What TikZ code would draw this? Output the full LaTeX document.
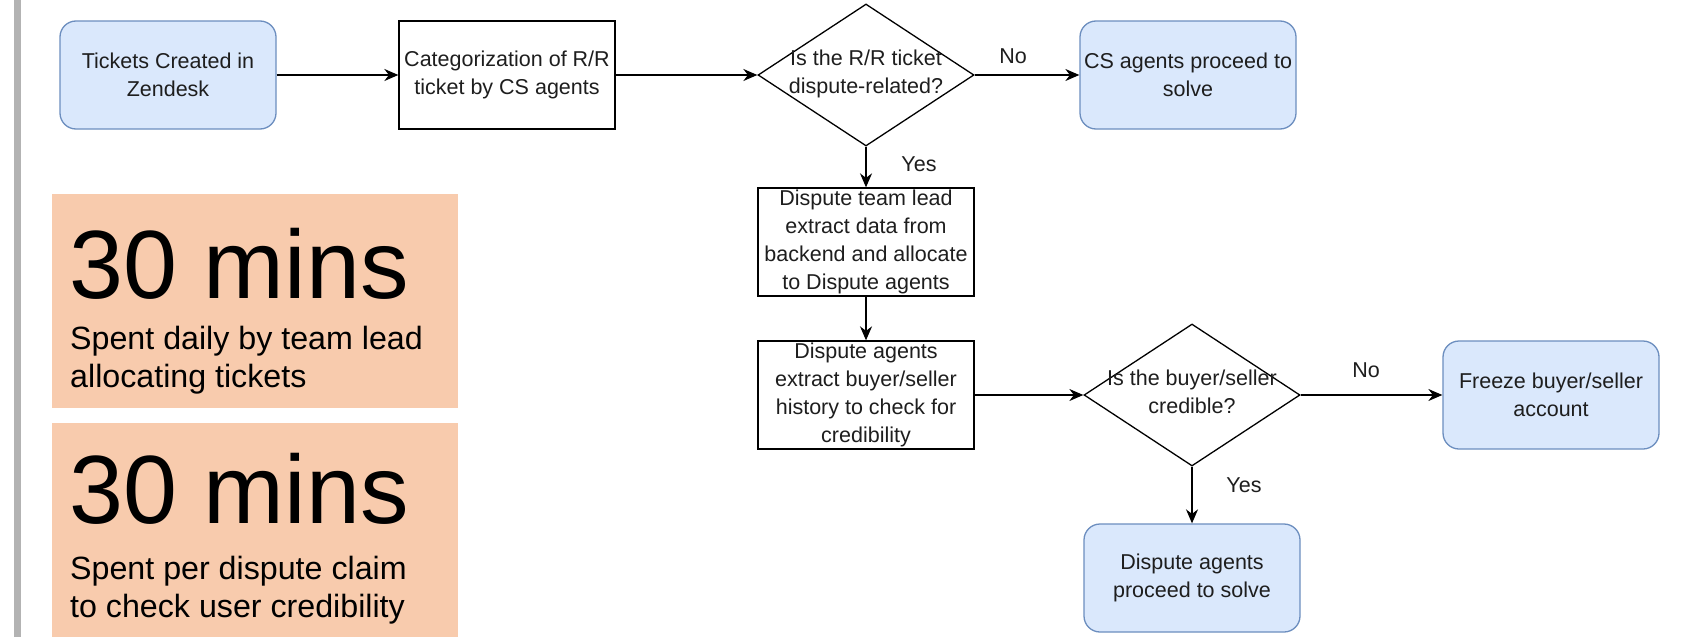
\documentclass[tikz,border=0pt]{standalone}
\usepackage{fontspec}
\setmainfont{Liberation Sans}
\usetikzlibrary{shapes.geometric,arrows.meta}
\definecolor{boxfill}{HTML}{DAE8FC}
\definecolor{boxline}{HTML}{6C8EBF}
\definecolor{orangefill}{HTML}{F8CBAD}
\definecolor{barcol}{HTML}{B3B3B3}
\definecolor{txt}{HTML}{1E1E1E}
\newcommand\dtext[1]{\makebox[0pt]{\smash{\raisebox{-4pt}{\begin{tabular}{@{}c@{}}#1\end{tabular}}}}}
\begin{document}
\begin{tikzpicture}[x=1pt,y=-1pt,
  fc/.style={font=\fontsize{21.5}{28}\selectfont, text=txt},
  process/.style={fc, draw=black, line width=1.3pt, fill=white, minimum width=216pt, minimum height=108pt, inner sep=0pt, align=center},
  terminal/.style={process, rounded corners=16pt, fill=boxfill, draw=boxline},
  decision/.style={fc, diamond, draw=black, line width=1.3pt, fill=white, minimum width=216pt, minimum height=142pt, inner sep=0pt},
  flow/.style={draw=black, line width=1.5pt, -{Stealth[length=14pt,width=12pt]}},
  lbl/.style={fc, inner sep=0pt},
  stat/.style={fill=orangefill, draw=none},
  big/.style={anchor=base west, inner sep=0pt, font=\fontsize{97}{97}\selectfont},
  small/.style={anchor=base west, inner sep=0pt, font=\fontsize{32.2}{38}\selectfont}
]
\useasboundingbox (0,0) rectangle (1685,637);
\fill[white] (0,0) rectangle (1685,637);
% left grey bar
\fill[barcol] (14,0) rectangle (21,637);

% statistic panels
\path[stat] (52,194) rectangle (458,408);
\path[stat] (52,423) rectangle (458,637);
\node[big] (s1big) at (69,298) {30 mins};
\node[small] (s1a) at (70,349) {Spent daily by team lead};
\node[small] (s1b) at (70,387) {allocating tickets};
\node[big] (s2big) at (69,523) {30 mins};
\node[small] (s2a) at (70,579) {Spent per dispute claim};
\node[small] (s2b) at (70,617) {to check user credibility};

% flowchart
\node[terminal] (zen) at (168,75) {Tickets Created in\\Zendesk};
\node[process] (cat) at (507,75) {Categorization of R/R\\ticket by CS agents};
\node[decision] (d1) at (866,75) {\dtext{Is the R/R ticket\\dispute-related?}};
\node[terminal] (cs) at (1188,75) {CS agents proceed to\\solve};
\node[process] (lead) at (866,242) {Dispute team lead\\extract data from\\backend and allocate\\to Dispute agents};
\node[process] (hist) at (866,395) {Dispute agents\\extract buyer/seller\\history to check for\\credibility};
\node[decision] (d2) at (1192,395) {\dtext{Is the buyer/seller\\credible?}};
\node[terminal] (frz) at (1551,395) {Freeze buyer/seller\\account};
\node[terminal] (solve) at (1192,578) {Dispute agents\\proceed to solve};

\draw[flow] (zen) -- (cat);
\draw[flow] (cat) -- (d1);
\draw[flow] (d1) -- (cs);
\draw[flow] (d1) -- (lead);
\draw[flow] (lead) -- (hist);
\draw[flow] (hist) -- (d2);
\draw[flow] (d2) -- (frz);
\draw[flow] (d2) -- (solve);

\node[lbl] (no1) at (1013,56) {No};
\node[lbl] (yes1) at (919,164) {Yes};
\node[lbl] (no2) at (1366,370) {No};
\node[lbl] (yes2) at (1244,485) {Yes};
\end{tikzpicture}
\end{document}
